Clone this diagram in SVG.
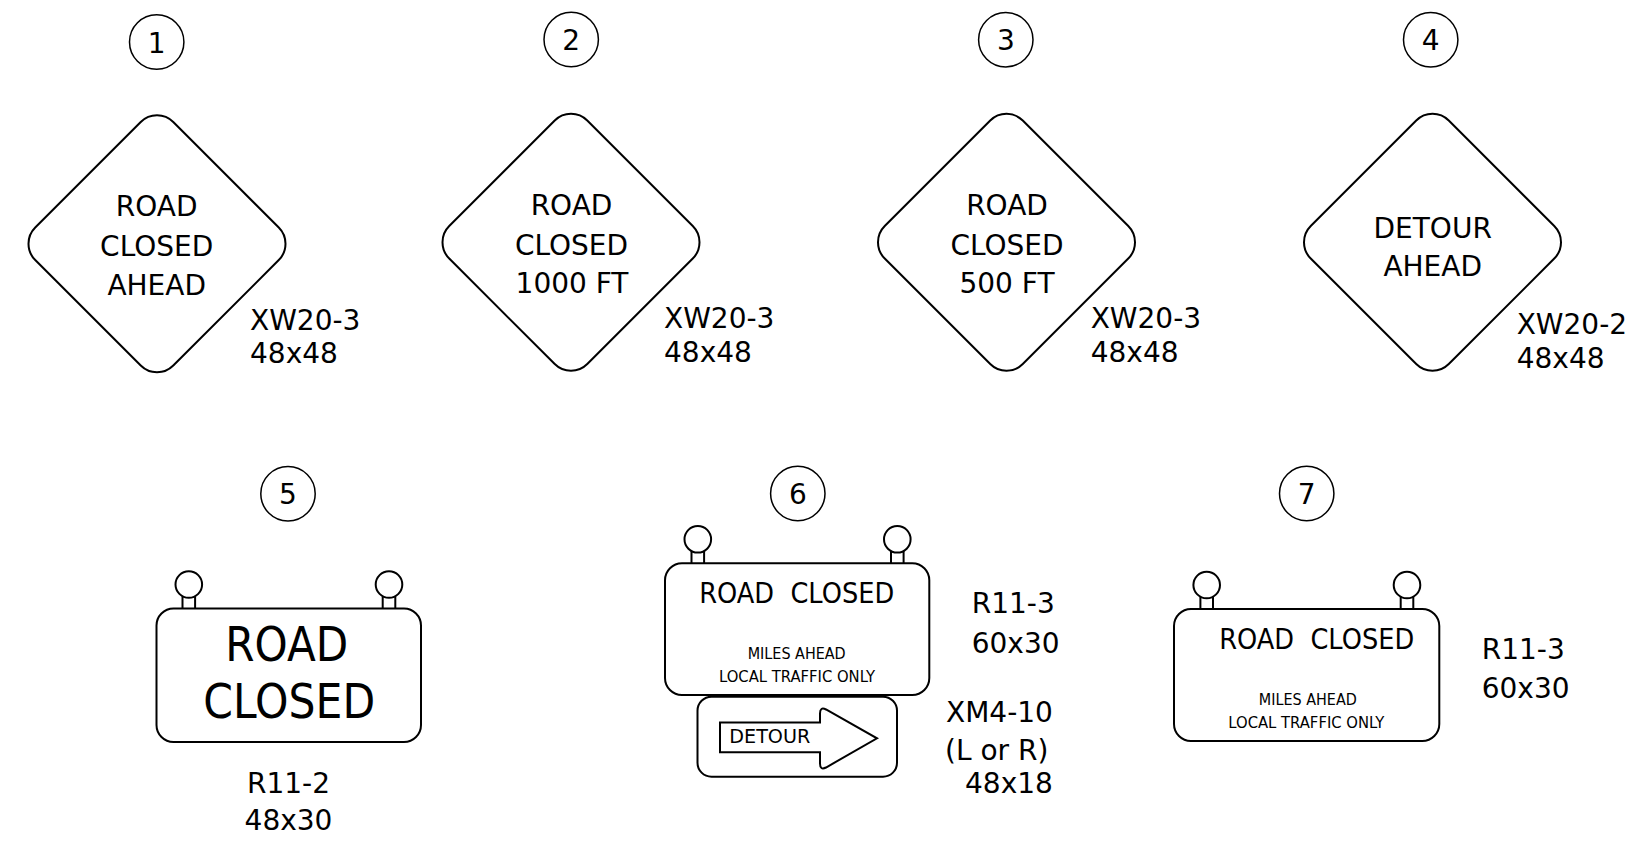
<svg xmlns="http://www.w3.org/2000/svg" xmlns:xlink="http://www.w3.org/1999/xlink" width="1631" height="844" viewBox="0 0 1631 844">
<style>
  text { font-family: "DejaVu Sans", "Liberation Sans", sans-serif; fill: #000; }
  .big { font-size: 28px; }
  .mid { text-anchor: middle; }
  .num { font-size: 28px; text-anchor: middle; }
  .sm { font-size: 15px; text-anchor: middle; }
  .sign { fill: #fff; stroke: #000; stroke-width: 2; }
  .badge { fill: none; stroke: #000; stroke-width: 1.5; }
  .pre { white-space: pre; }
</style>
<defs>
  <rect id="dia" x="-97.6" y="-97.6" width="195.2" height="195.2" rx="23" ry="23"/>
  <g id="post" fill="none" stroke="#000" stroke-width="2">
    <circle cx="0" cy="-24" r="13.3" fill="#fff"/>
    <line x1="-6.3" y1="-12.3" x2="-6.3" y2="0"/>
    <line x1="6.3" y1="-12.3" x2="6.3" y2="0"/>
  </g>
</defs>
<rect x="0" y="0" width="1631" height="844" fill="#fff"/>
<g id="connectors"/>

<g id="sign1">
  <circle class="badge" cx="156.7" cy="42" r="27.2"/>
  <text class="num" x="156.7" y="52.5">1</text>
  <use xlink:href="#dia" class="sign" transform="translate(157,243.8) rotate(45)"/>
  <text class="big mid" x="156.7" y="216">ROAD</text>
  <text class="big mid" x="156.7" y="256">CLOSED</text>
  <text class="big mid" x="156.7" y="295">AHEAD</text>
  <text class="big" x="250" y="330">XW20-3</text>
  <text class="big" x="250" y="363">48x48</text>
</g>

<g id="sign2">
  <circle class="badge" cx="571.2" cy="39.5" r="27.2"/>
  <text class="num" x="571.2" y="50">2</text>
  <use xlink:href="#dia" class="sign" transform="translate(571,242.3) rotate(45)"/>
  <text class="big mid" x="571.5" y="215">ROAD</text>
  <text class="big mid" x="571.5" y="255">CLOSED</text>
  <text class="big mid" x="572" y="293">1000 FT</text>
  <text class="big" x="664" y="328">XW20-3</text>
  <text class="big" x="664" y="362">48x48</text>
</g>

<g id="sign3">
  <circle class="badge" cx="1005.8" cy="39.7" r="27.2"/>
  <text class="num" x="1005.8" y="50.2">3</text>
  <use xlink:href="#dia" class="sign" transform="translate(1006.5,242.3) rotate(45)"/>
  <text class="big mid" x="1007" y="215">ROAD</text>
  <text class="big mid" x="1007" y="255">CLOSED</text>
  <text class="big mid" x="1007" y="293">500 FT</text>
  <text class="big" x="1090.7" y="328">XW20-3</text>
  <text class="big" x="1090.7" y="362">48x48</text>
</g>

<g id="sign4">
  <circle class="badge" cx="1430.7" cy="39.7" r="27.2"/>
  <text class="num" x="1430.7" y="50.2">4</text>
  <use xlink:href="#dia" class="sign" transform="translate(1432.5,242.3) rotate(45)"/>
  <text class="big mid" x="1432.7" y="237.7">DETOUR</text>
  <text class="big mid" x="1432.7" y="275.7">AHEAD</text>
  <text class="big" x="1516.7" y="334.3">XW20-2</text>
  <text class="big" x="1516.7" y="367.7">48x48</text>
</g>

<g id="sign5">
  <circle class="badge" cx="288" cy="493.8" r="27.2"/>
  <text class="num" x="288" y="504.3">5</text>
  <use xlink:href="#post" x="188.8" y="608.5"/>
  <use xlink:href="#post" x="389" y="608.5"/>
  <rect class="sign" x="156.5" y="608.5" width="264.5" height="133.5" rx="17" ry="17"/>
  <text class="mid" x="286.7" y="660.7" font-size="48" textLength="123" lengthAdjust="spacingAndGlyphs">ROAD</text>
  <text class="mid" x="289.2" y="717.7" font-size="48" textLength="172" lengthAdjust="spacingAndGlyphs">CLOSED</text>
  <text class="big mid" x="288.5" y="793.3">R11-2</text>
  <text class="big mid" x="288.5" y="830">48x30</text>
</g>

<g id="sign6">
  <circle class="badge" cx="797.8" cy="493.5" r="27.2"/>
  <text class="num" x="797.8" y="504">6</text>
  <use xlink:href="#post" x="697.8" y="563.3"/>
  <use xlink:href="#post" x="897.3" y="563.3"/>
  <rect class="sign" x="665" y="563.3" width="264.3" height="131.7" rx="17" ry="17"/>
  <text class="big mid pre" xml:space="preserve" x="796.7" y="603.3" textLength="195" lengthAdjust="spacingAndGlyphs">ROAD  CLOSED</text>
  <text class="sm" x="796.7" y="659.3" textLength="98" lengthAdjust="spacingAndGlyphs">MILES AHEAD</text>
  <text class="sm" x="797" y="681.7" textLength="156" lengthAdjust="spacingAndGlyphs">LOCAL TRAFFIC ONLY</text>
  <rect class="sign" x="697.5" y="696.7" width="199.5" height="80" rx="14" ry="14"/>
  <path class="sign" d="M720,722.5 H820 V713.5 Q820,706.5 826,709.5 L877,738.3 L826,767.5 Q820,770.5 820,763.5 V752.3 H720 Z"/>
  <text x="729.3" y="743.3" font-size="20" textLength="81" lengthAdjust="spacingAndGlyphs">DETOUR</text>
  <text class="big" x="971.7" y="613.3">R11-3</text>
  <text class="big" x="971.7" y="652.7">60x30</text>
  <text class="big" x="946" y="721.7">XM4-10</text>
  <text class="big" x="945" y="760">(L or R)</text>
  <text class="big" x="965" y="793.3">48x18</text>
</g>

<g id="sign7">
  <circle class="badge" cx="1306.7" cy="493.5" r="27.2"/>
  <text class="num" x="1306.7" y="504">7</text>
  <use xlink:href="#post" x="1206.7" y="609"/>
  <use xlink:href="#post" x="1407" y="609"/>
  <rect class="sign" x="1174" y="609" width="265.3" height="132" rx="17" ry="17"/>
  <text class="big mid pre" xml:space="preserve" x="1316.7" y="649.3" textLength="195" lengthAdjust="spacingAndGlyphs">ROAD  CLOSED</text>
  <text class="sm" x="1307.8" y="705" textLength="98" lengthAdjust="spacingAndGlyphs">MILES AHEAD</text>
  <text class="sm" x="1306.3" y="727.7" textLength="156" lengthAdjust="spacingAndGlyphs">LOCAL TRAFFIC ONLY</text>
  <text class="big" x="1481.7" y="659">R11-3</text>
  <text class="big" x="1481.7" y="698.3">60x30</text>
</g>
</svg>
